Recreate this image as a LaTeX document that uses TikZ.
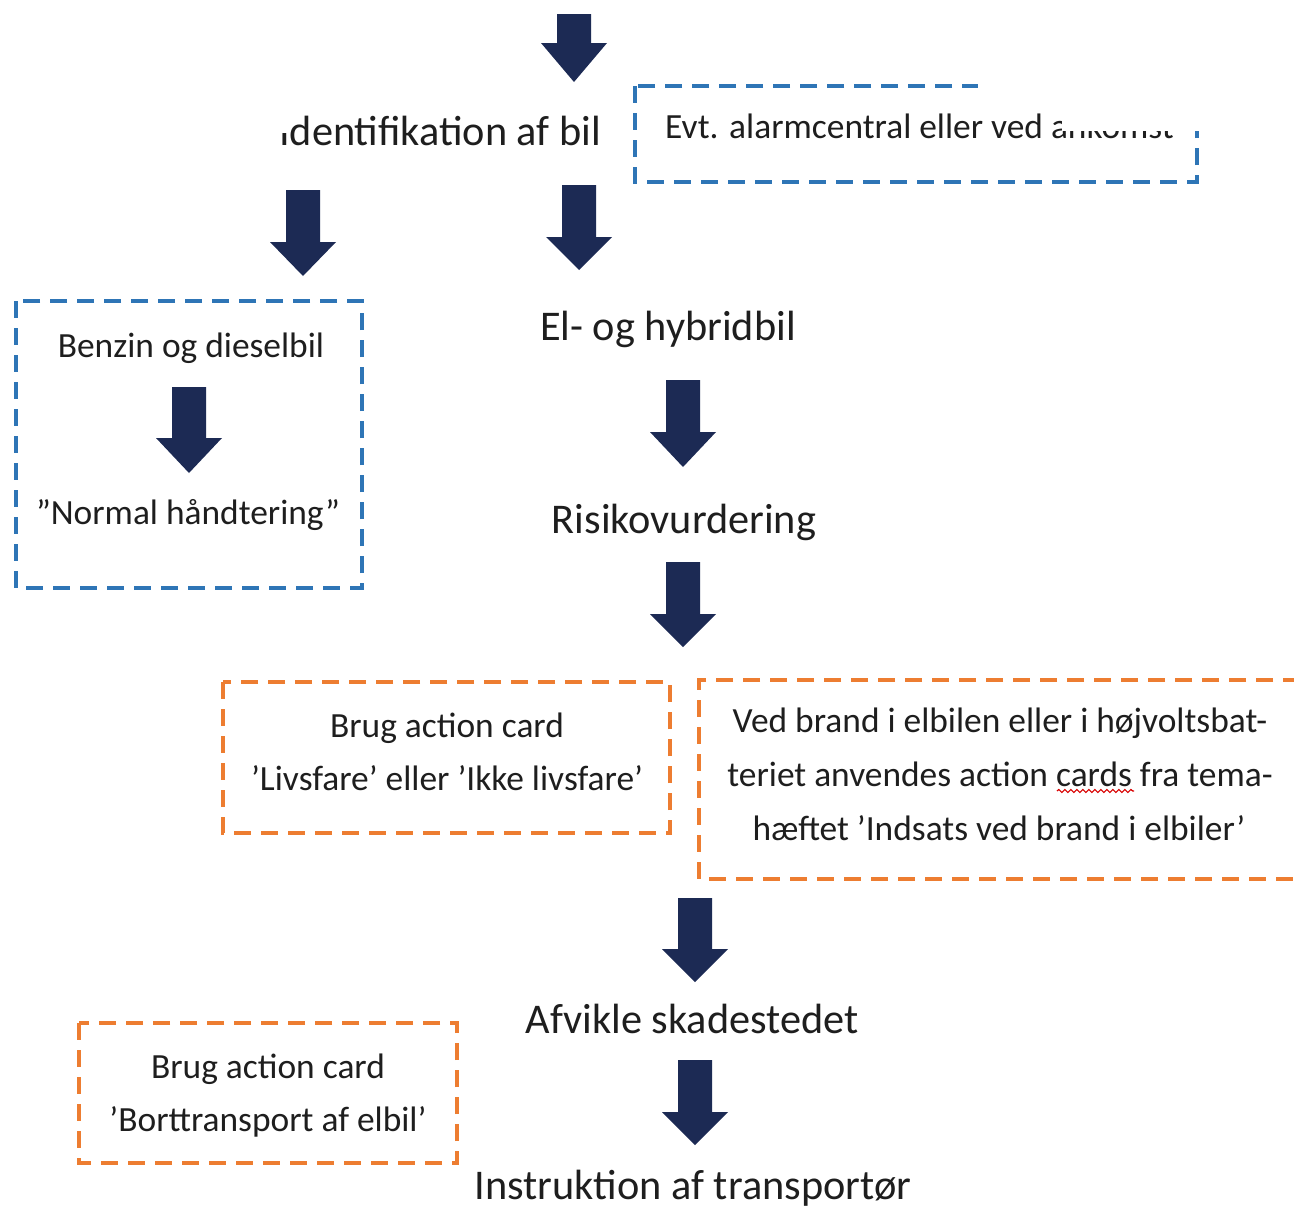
\documentclass[tikz,border=0pt]{standalone}
\usepackage{fontspec}
\setmainfont{Carlito}
\usetikzlibrary{decorations.pathmorphing}
\definecolor{navy}{HTML}{1C2A54}
\definecolor{boxblue}{HTML}{2E75B6}
\definecolor{boxorange}{HTML}{ED7D31}
\definecolor{txt}{HTML}{1E1E1E}
\newcommand\blockarrow[4]{% cx, top, head start, tip
  \fill[navy] (#1-17,#2) -- (#1+17,#2) -- (#1+17,#3) -- (#1+33,#3) -- (#1,#4) -- (#1-33,#3) -- (#1-17,#3) -- cycle;}
\begin{document}
\begin{tikzpicture}[x=1pt,y=-1pt,
  big/.style={font=\fontsize{42.3}{50}\selectfont, text=txt, inner sep=0pt, anchor=base},
  small/.style={font=\fontsize{35.4}{42}\selectfont, text=txt, inner sep=0pt, anchor=base},
  bluebox/.style={draw=boxblue, line width=4pt, dash pattern=on 17pt off 10pt},
  orangebox/.style={draw=boxorange, line width=4pt, dash pattern=on 17pt off 10pt}]
\useasboundingbox (0,0) rectangle (1294,1210);
\fill[white] (0,0) rectangle (1294,1210);

% boxes
\draw[bluebox] (635,86) rectangle (1197,182);
\draw[bluebox] (16,301) rectangle (362,588);
\draw[orangebox] (223,682) rectangle (670,833);
\draw[orangebox] (1300,680) -- (699,680) -- (699,879) -- (1300,879);
\draw[orangebox] (79,1023) rectangle (457,1163);

% texts
\node[big, anchor=base west] (ident) at (279,145) {Identifikation af bil};
\fill[white] (272,100) rectangle (287,133);
\node[small, anchor=base west] (evt) at (665,138) {Evt. alarmcentral eller ved ankomst};
\fill[white] (978,72) rectangle (1205,97);
\fill[white] (1062,97) rectangle (1205,131);

\node[small] (benzin) at (191,357) {Benzin og dieselbil};
\node[small] (normal) at (188,524) {”Normal håndtering”};
\node[big] (el) at (668,340) {El- og hybridbil};
\node[big] (risiko) at (684,533) {Risikovurdering};
\node[small] (brug1) at (447,737) {Brug action card};
\node[small] (livs) at (447,790) {’Livsfare’ eller ’Ikke livsfare’};
\node[small] (ved1) at (1000,732) {Ved brand i elbilen eller i højvoltsbat-};
\node[small] (ved2) at (1000,786) {teriet anvendes action cards fra tema-};
\node[small] (ved3) at (999,840) {hæftet ’Indsats ved brand i elbiler’};
\node[big] (afvikle) at (692,1033) {Afvikle skadestedet};
\node[small] (brug2) at (268,1078) {Brug action card};
\node[small] (bort) at (268,1131) {’Borttransport af elbil’};
\node[big] (instr) at (693,1199) {Instruktion af transportør};

% spell-check squiggle
\draw[red!85!black, line width=1.2pt, decorate, decoration={snake, amplitude=1.5pt, segment length=6pt}] (1057,791) -- (1134,791);

% block arrows
\blockarrow{574}{14}{43}{82}
\blockarrow{303}{190}{242}{276}
\blockarrow{579}{185}{237}{270}
\blockarrow{189}{387}{438}{473}
\blockarrow{683}{380}{432}{467}
\blockarrow{683}{562}{614}{647}
\blockarrow{695}{898}{949}{982}
\blockarrow{695}{1060}{1112}{1145}
\end{tikzpicture}
\end{document}
